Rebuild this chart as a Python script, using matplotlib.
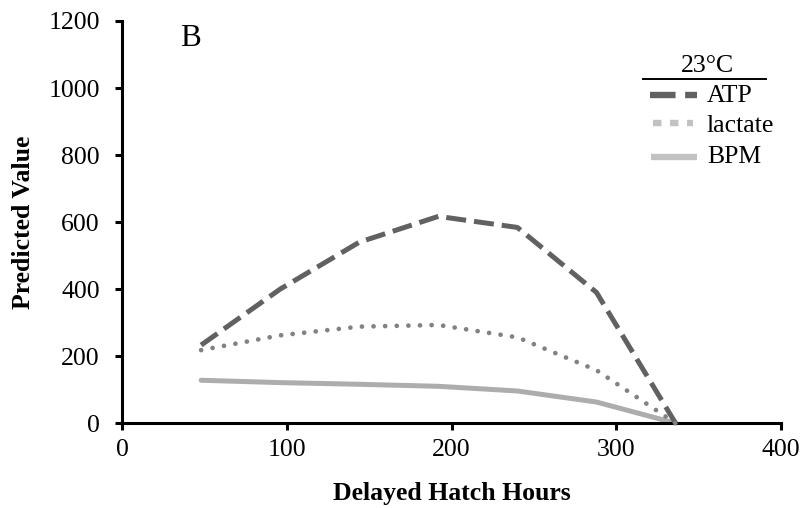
import matplotlib
matplotlib.use("Agg")
import matplotlib.pyplot as plt
from matplotlib.lines import Line2D

plt.rcParams['font.family'] = ['Liberation Serif', 'DejaVu Serif']

hours = [48, 96, 144, 192, 240, 288, 336]
atp = [233, 400, 540, 617, 584, 390, 0]
lactate = [218, 262, 288, 293, 256, 158, 0]
bpm = [128, 121, 116, 110, 96, 63, 0]
series_names = ["ATP", "lactate", "BPM"]
legend_title = "23°C"
panel_label = "B"

FS = 18.5
fig = plt.figure(figsize=(8.03, 5.08), dpi=100)
ax = fig.add_axes([0.152, 0.167, 0.8206, 0.7917])

c_atp = "#616161"
c_lac = "#828282"
c_bpm = "#adadad"
c_leg_light = "#c2c2c2"

ax.plot(hours, atp, color=c_atp, lw=3.6, dashes=(4.0, 1.6), dash_capstyle='butt',
        clip_on=False, zorder=3)
ax.plot(hours, lactate, color=c_lac, lw=3.4, dashes=(0.01, 2.45), dash_capstyle='round',
        clip_on=False, zorder=3)
ax.plot(hours, bpm, color=c_bpm, lw=3.6, solid_capstyle='round', clip_on=False, zorder=2)

ax.set_xlim(0, 400)
ax.set_ylim(0, 1200)
ax.set_xticks([0, 100, 200, 300, 400])
ax.set_yticks([0, 200, 400, 600, 800, 1000, 1200])
ax.spines['top'].set_visible(False)
ax.spines['right'].set_visible(False)
for s in ['left', 'bottom']:
    ax.spines[s].set_linewidth(2.2)
ax.tick_params(axis='both', direction='out', length=5, width=2.2, labelsize=FS)
ax.tick_params(axis='y', pad=11)
ax.tick_params(axis='x', pad=6.5)

ax.set_xlabel("Delayed Hatch Hours", fontsize=FS, fontweight='bold', va='center')
ax.xaxis.set_label_coords(0.5, -0.174)
ax.set_ylabel("Predicted Value", fontsize=FS, fontweight='bold', va='center')
ax.yaxis.set_label_coords(-0.150, 0.5)

ax.text(0.088, 0.992, panel_label, transform=ax.transAxes, fontsize=22.5,
        ha='left', va='top')

# legend (manual, axes-fraction coordinates)
T = ax.transAxes
ax.text(0.8885, 0.8731, legend_title, transform=T, fontsize=FS, ha='center', va='baseline')
ax.add_line(Line2D([0.7906, 0.9772], [0.8557, 0.8557], transform=T, color='black',
                   lw=1.4, clip_on=False))
ax.add_line(Line2D([0.801, 0.8725], [0.816, 0.816], transform=T, color=c_atp, lw=4.6,
                   dashes=(4.0, 1.5), dash_capstyle='butt', clip_on=False))
ax.add_line(Line2D([0.8058, 0.8665], [0.7463, 0.7463], transform=T, color=c_leg_light,
                   lw=4.6, dashes=(1.33, 1.33), dash_capstyle='butt', clip_on=False))
ax.add_line(Line2D([0.8027, 0.8725], [0.6617, 0.6617], transform=T, color=c_leg_light,
                   lw=4.6, solid_capstyle='butt', clip_on=False))
for name, yb in zip(series_names, [0.7985, 0.7239, 0.6468]):
    ax.text(0.8877, yb, name, transform=T, fontsize=FS, ha='left', va='baseline')

fig.savefig("out.png", dpi=100)
